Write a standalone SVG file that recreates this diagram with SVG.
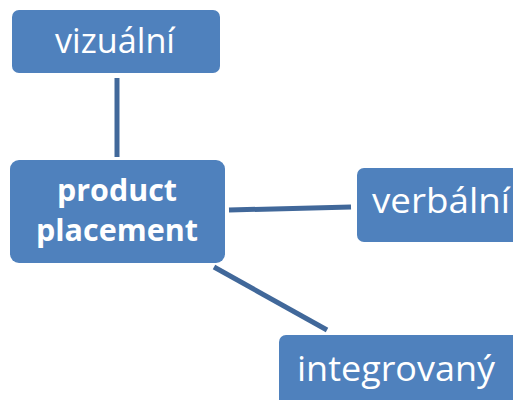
<svg xmlns="http://www.w3.org/2000/svg" width="513" height="400" viewBox="0 0 513 400">
<style>
.box{fill:#4F81BD;}
.t{fill:#FFFFFF;font-family:"Open Sans","Noto Sans","Liberation Sans",sans-serif;font-size:35px;}
.b{font-weight:bold;font-size:31px;text-anchor:middle;}
.c{stroke:#41689A;stroke-width:5;fill:none;}
</style>
<rect width="513" height="400" fill="#FFFFFF"/>
<g id="connectors">
<line class="c" x1="117" y1="78" x2="117" y2="157"/>
<line class="c" x1="229" y1="210" x2="351" y2="207"/>
<line class="c" x1="214" y1="267" x2="327" y2="330"/>
</g>
<g id="vizualni">
<rect class="box" x="12" y="10" width="208" height="63" rx="7"/>
<text class="t" x="55" y="53" textLength="120" lengthAdjust="spacingAndGlyphs">vizuální</text>
</g>
<g id="product-placement">
<rect class="box" x="10" y="160" width="215" height="103" rx="9"/>
<text class="t b" x="117" y="201" textLength="120" lengthAdjust="spacingAndGlyphs">product</text>
<text class="t b" x="117" y="241" textLength="162" lengthAdjust="spacingAndGlyphs">placement</text>
</g>
<g id="verbalni">
<rect class="box" x="357" y="168" width="170" height="74" rx="7"/>
<text class="t" x="372" y="213" textLength="138" lengthAdjust="spacingAndGlyphs">verbální</text>
</g>
<g id="integrovany">
<rect class="box" x="279" y="335" width="250" height="80" rx="7"/>
<text class="t" x="297" y="381" textLength="198" lengthAdjust="spacingAndGlyphs">integrovaný</text>
</g>
</svg>
